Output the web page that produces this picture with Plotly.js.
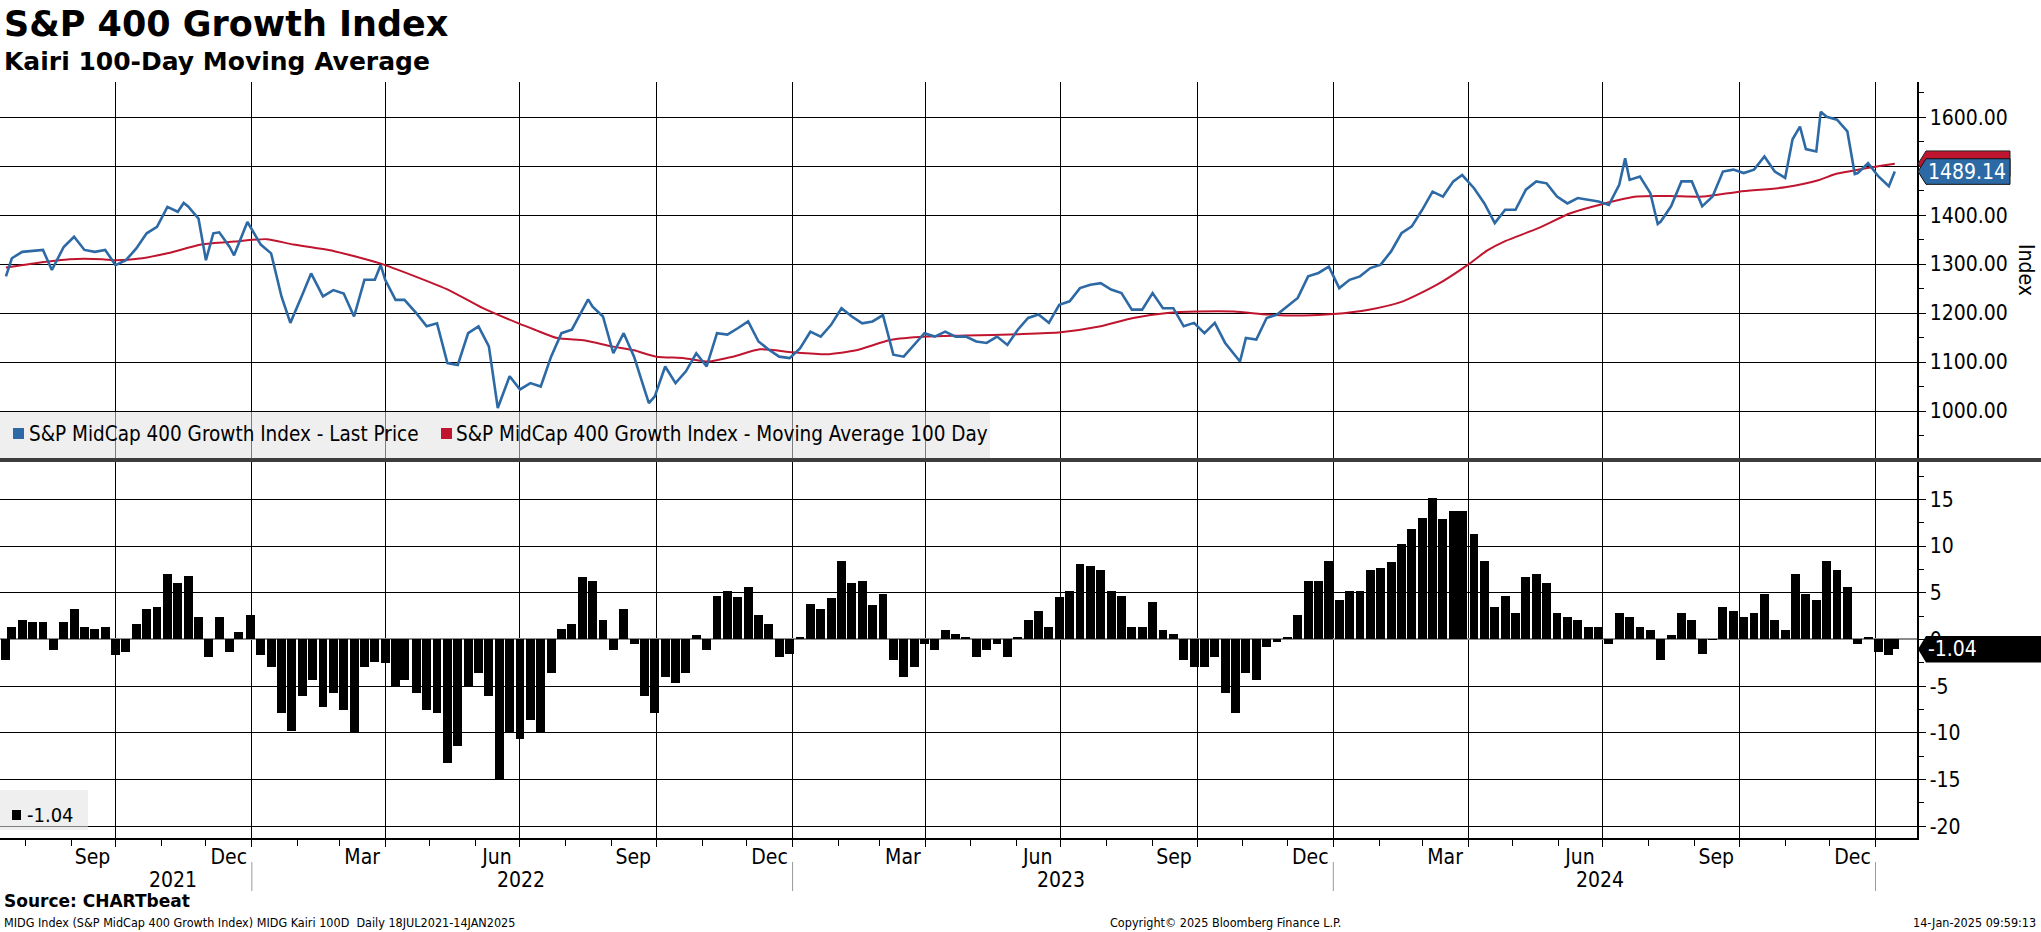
<!DOCTYPE html>
<html>
<head>
<meta charset="utf-8">
<script src="https://cdn.plot.ly/plotly-3.0.1.min.js"></script>
<style>
  html, body { margin: 0; padding: 0; background: #fff; }
  #chart { width: 2041px; height: 932px; }
</style>
</head>
<body>
<div id="chart"></div>
<script>
// MIDG last price (weekly closes plus a few turning points)
const priceDates = [
  '2021-07-19','2021-07-23','2021-07-30','2021-08-06','2021-08-13','2021-08-19','2021-08-27','2021-09-03','2021-09-10','2021-09-17','2021-09-24',
  '2021-10-01','2021-10-08','2021-10-15','2021-10-22','2021-10-29','2021-11-05','2021-11-12','2021-11-16','2021-11-19','2021-11-26',
  '2021-12-01','2021-12-06','2021-12-10','2021-12-17','2021-12-20','2021-12-29','2022-01-07','2022-01-14','2022-01-21','2022-01-27',
  '2022-02-04','2022-02-10','2022-02-18','2022-02-25','2022-03-04','2022-03-11','2022-03-18','2022-03-25','2022-03-29','2022-04-01',
  '2022-04-08','2022-04-14','2022-04-22','2022-04-29','2022-05-06','2022-05-13','2022-05-20','2022-05-27','2022-06-03','2022-06-10',
  '2022-06-16','2022-06-24','2022-07-01','2022-07-08','2022-07-15','2022-07-22','2022-07-29','2022-08-05','2022-08-16','2022-08-19',
  '2022-08-26','2022-09-02','2022-09-09','2022-09-16','2022-09-23','2022-09-26','2022-09-30','2022-10-07','2022-10-14','2022-10-21',
  '2022-10-28','2022-11-04','2022-11-11','2022-11-18','2022-11-25','2022-12-02','2022-12-09','2022-12-16','2022-12-23','2022-12-30',
  '2023-01-06','2023-01-13','2023-01-20','2023-01-27','2023-02-03','2023-02-10','2023-02-17','2023-02-24','2023-03-03','2023-03-10',
  '2023-03-17','2023-03-24','2023-03-31','2023-04-07','2023-04-14','2023-04-21','2023-04-28','2023-05-05','2023-05-12','2023-05-19',
  '2023-05-26','2023-06-02','2023-06-09','2023-06-16','2023-06-23','2023-06-30','2023-07-07','2023-07-14','2023-07-21','2023-07-28',
  '2023-08-04','2023-08-11','2023-08-18','2023-08-25','2023-09-01','2023-09-08','2023-09-15','2023-09-22','2023-09-29','2023-10-06',
  '2023-10-13','2023-10-20','2023-10-27','2023-10-30','2023-11-03','2023-11-10','2023-11-17','2023-11-24','2023-12-01','2023-12-08',
  '2023-12-15','2023-12-22','2023-12-29','2024-01-05','2024-01-12','2024-01-19','2024-01-26','2024-02-02','2024-02-09','2024-02-16',
  '2024-02-23','2024-03-01','2024-03-08','2024-03-15','2024-03-22','2024-03-28','2024-04-05','2024-04-12','2024-04-19','2024-04-26',
  '2024-05-03','2024-05-10','2024-05-17','2024-05-24','2024-05-31','2024-06-07','2024-06-14','2024-06-21','2024-06-28','2024-07-05',
  '2024-07-12','2024-07-16','2024-07-19','2024-07-26','2024-08-02','2024-08-07','2024-08-09','2024-08-16','2024-08-23','2024-08-30',
  '2024-09-06','2024-09-13','2024-09-20','2024-09-27','2024-10-04','2024-10-11','2024-10-18','2024-10-25','2024-11-01','2024-11-06',
  '2024-11-11','2024-11-15','2024-11-22','2024-11-25','2024-11-29','2024-12-06','2024-12-13','2024-12-18','2024-12-20','2024-12-27',
  '2025-01-03','2025-01-10','2025-01-14'
];
const priceValues = [
  1275,1312,1325,1327,1329,1288,1335,1356,1329,1325,1329,
  1298,1308,1332,1363,1376,1417,1407,1425,1418,1393,
  1308,1363,1365,1335,1318,1386,1340,1322,1234,1180,
  1237,1281,1234,1247,1240,1193,1268,1268,1298,1268,
  1227,1227,1200,1173,1179,1098,1094,1159,1173,1132,
  1006,1071,1044,1057,1050,1111,1159,1166,1228,1213,
  1193,1118,1159,1111,1044,1016,1030,1091,1057,1081,
  1118,1091,1159,1156,1169,1183,1142,1125,1111,1108,
  1128,1162,1152,1176,1210,1193,1179,1183,1196,1115,
  1111,1135,1159,1152,1162,1152,1152,1142,1139,1152,
  1135,1166,1190,1197,1180,1217,1224,1251,1258,1261,
  1248,1241,1207,1207,1241,1210,1210,1173,1180,1159,
  1180,1139,1112,1101,1149,1146,1190,1197,1214,1231,
  1275,1282,1295,1251,1268,1275,1292,1299,1326,1363,
  1377,1411,1448,1438,1469,1482,1455,1424,1384,1411,
  1411,1452,1469,1465,1438,1424,1435,1431,1428,1421,
  1462,1516,1472,1479,1445,1382,1387,1418,1469,1469,
  1418,1438,1489,1493,1486,1493,1520,1489,1476,1555,
  1581,1535,1530,1611,1601,1595,1571,1484,1486,1506,
  1479,1459,1489.14
];

// 100-day moving average
const maDates = [
  '2021-07-19','2021-08-08','2021-08-31','2021-09-22','2021-10-01','2021-10-19','2021-11-05','2021-11-28','2021-12-20','2022-01-11',
  '2022-01-29','2022-02-25','2022-03-28','2022-04-22','2022-05-14','2022-06-06','2022-06-30','2022-07-11','2022-07-26','2022-08-14',
  '2022-09-01','2022-09-16','2022-10-01','2022-10-20','2022-11-05','2022-11-22','2022-12-10','2023-01-01','2023-01-24','2023-02-13',
  '2023-03-08','2023-04-01','2023-04-28','2023-06-03','2023-07-01','2023-07-28','2023-08-19','2023-09-11','2023-10-01','2023-10-26',
  '2023-11-18','2023-12-12','2024-01-01','2024-01-25','2024-02-17','2024-03-11','2024-04-01','2024-04-14','2024-04-26','2024-05-18',
  '2024-06-09','2024-07-01','2024-07-24','2024-08-15','2024-09-07','2024-10-01','2024-11-01','2024-11-24','2024-12-05','2025-01-01',
  '2025-01-14'
];
const maValues = [
  1293,1302,1310,1310,1308,1312,1322,1340,1346,1351,
  1340,1327,1302,1274,1247,1210,1179,1166,1149,1144,
  1132,1124,1111,1108,1101,1111,1126,1120,1116,1124,
  1145,1152,1154,1157,1161,1173,1190,1200,1203,1203,
  1197,1195,1198,1207,1224,1258,1299,1328,1347,1373,
  1404,1423,1438,1439,1438,1448,1457,1472,1484,1499,
  1505
];

// Kairi 100D (% distance from the moving average), weekly readings
const kairiDates = [
  '2021-07-19','2021-07-23','2021-07-30','2021-08-06','2021-08-13','2021-08-20','2021-08-27','2021-09-03','2021-09-10','2021-09-17','2021-09-24',
  '2021-10-01','2021-10-08','2021-10-15','2021-10-22','2021-10-29','2021-11-05','2021-11-12','2021-11-19','2021-11-26','2021-12-03',
  '2021-12-10','2021-12-17','2021-12-23','2021-12-31','2022-01-07','2022-01-14','2022-01-21','2022-01-28','2022-02-04','2022-02-11',
  '2022-02-18','2022-02-25','2022-03-04','2022-03-11','2022-03-18','2022-03-25','2022-04-01','2022-04-08','2022-04-14','2022-04-22',
  '2022-04-29','2022-05-06','2022-05-13','2022-05-20','2022-05-27','2022-06-03','2022-06-10','2022-06-17','2022-06-24','2022-07-01',
  '2022-07-08','2022-07-15','2022-07-22','2022-07-29','2022-08-05','2022-08-12','2022-08-19','2022-08-26','2022-09-02','2022-09-09',
  '2022-09-16','2022-09-23','2022-09-30','2022-10-07','2022-10-14','2022-10-21','2022-10-28','2022-11-04','2022-11-11','2022-11-18',
  '2022-11-25','2022-12-02','2022-12-09','2022-12-16','2022-12-23','2022-12-30','2023-01-06','2023-01-13','2023-01-20','2023-01-27',
  '2023-02-03','2023-02-10','2023-02-17','2023-02-24','2023-03-03','2023-03-10','2023-03-17','2023-03-24','2023-03-31','2023-04-07',
  '2023-04-14','2023-04-21','2023-04-28','2023-05-05','2023-05-12','2023-05-19','2023-05-26','2023-06-02','2023-06-09','2023-06-16',
  '2023-06-23','2023-06-30','2023-07-07','2023-07-14','2023-07-21','2023-07-28','2023-08-04','2023-08-11','2023-08-18','2023-08-25',
  '2023-09-01','2023-09-08','2023-09-15','2023-09-22','2023-09-29','2023-10-06','2023-10-13','2023-10-20','2023-10-27','2023-11-03',
  '2023-11-10','2023-11-17','2023-11-24','2023-12-01','2023-12-08','2023-12-15','2023-12-22','2023-12-29','2024-01-05','2024-01-12',
  '2024-01-19','2024-01-26','2024-02-02','2024-02-09','2024-02-16','2024-02-23','2024-03-01','2024-03-08','2024-03-15','2024-03-22',
  '2024-03-28','2024-04-05','2024-04-12','2024-04-19','2024-04-26','2024-05-03','2024-05-10','2024-05-17','2024-05-24','2024-05-31',
  '2024-06-07','2024-06-14','2024-06-21','2024-06-28','2024-07-05','2024-07-12','2024-07-19','2024-07-26','2024-08-02','2024-08-09',
  '2024-08-16','2024-08-23','2024-08-30','2024-09-06','2024-09-13','2024-09-20','2024-09-27','2024-10-04','2024-10-11','2024-10-18',
  '2024-10-25','2024-11-01','2024-11-08','2024-11-15','2024-11-22','2024-11-29','2024-12-06','2024-12-13','2024-12-20','2024-12-27',
  '2025-01-03','2025-01-10','2025-01-14'
];
const kairiValues = [
  -2.2,1.35,2.06,1.88,1.88,-1.13,1.88,3.3,1.35,1.17,1.35,
  -1.67,-1.31,1.7,3.3,3.5,7.0,6.1,6.8,2.4,-1.84,
  2.4,-1.31,0.8,2.6,-1.67,-2.9,-7.9,-9.8,-6.1,-4.3,
  -7.2,-5.7,-7.5,-10.0,-2.9,-2.4,-2.55,-5.0,-4.3,-5.7,
  -7.5,-7.9,-13.2,-11.4,-5.0,-3.6,-6.1,-15.0,-10.0,-10.7,
  -8.6,-10.0,-3.6,1.17,1.7,6.7,6.3,2.06,-1.13,3.3,
  -0.43,-6.1,-7.9,-4.0,-4.7,-3.6,0.46,-1.13,4.7,5.2,
  4.5,5.6,2.6,1.7,-1.84,-1.5,0.3,3.8,3.3,4.4,
  8.4,6.0,6.3,3.65,4.9,-2.2,-4.0,-2.9,-0.43,-1.13,
  1.0,0.64,0.3,-1.84,-1.13,-0.43,-1.84,0.3,2.06,3.1,
  1.35,4.5,5.2,8.1,7.9,7.4,5.2,4.7,1.35,1.35,
  4.0,1.0,0.64,-2.2,-2.9,-2.9,-1.84,-5.7,-7.9,-3.6,
  -4.3,-0.78,-0.25,0.3,2.6,6.3,6.3,8.4,4.2,5.2,
  5.2,7.4,7.7,8.3,10.2,11.8,13.0,15.2,12.9,13.8,
  13.8,11.3,8.4,3.5,4.7,2.8,6.7,7.0,6.0,2.8,
  2.4,2.06,1.35,1.35,-0.43,2.8,2.4,1.35,1.0,-2.2,
  0.46,2.8,2.06,-1.5,-0.07,3.5,3.1,2.4,2.8,4.9,
  2.06,1.0,7.0,4.9,4.2,8.4,7.4,5.6,-0.43,0.3,
  -1.3,-1.67,-1.04
];

// axis ticks and labels
const quarterTicks = ['2021-10-01','2022-01-01','2022-04-01','2022-07-01','2022-10-01','2023-01-01','2023-04-01',
  '2023-07-01','2023-10-01','2024-01-01','2024-04-01','2024-07-01','2024-10-01','2025-01-01'];
const quarterLabels = ['Sep','Dec','Mar','Jun','Sep','Dec','Mar','Jun','Sep','Dec','Mar','Jun','Sep','Dec'];
const yearLabels = ['2021','2022','2023','2024'];
const yearCenters = ['2021-11-09','2022-07-02','2023-07-01','2024-06-29'];
const yearBreaks = ['2022-01-01','2023-01-01','2024-01-01','2025-01-01'];
const kairiTicks = [15, 10, 5, 0, -5, -10, -15, -20];

const BLUE = '#2d6aa5';
const RED = '#c0152f';
const FONT = "'DejaVu Sans Condensed', 'Liberation Sans', sans-serif";
const BOLD = "'DejaVu Sans', 'Liberation Sans', sans-serif";

// page pixel -> paper helpers (plot area: x 0..1917, y 82..838)
const PW = 1917, PTOP = 82, PBOT = 838;
function px(x) { return x / PW; }
function py(y) { return (PBOT - y) / (PBOT - PTOP); }

const upperRange = [904, 1672];
const lowerRange = [-21.25, 19];
const upperPxPerUnit = 376 / (upperRange[1] - upperRange[0]);
const lowerPxPerUnit = 376 / (lowerRange[1] - lowerRange[0]);

const lastPrice = priceValues[priceValues.length - 1];
const lastMa = maValues[maValues.length - 1];
const lastKairi = kairiValues[kairiValues.length - 1];

function tagPath(v, pxPerUnit, x1) {
  const h = 12.8 / pxPerUnit;
  const a = px(1918), b = px(1926), c = px(x1);
  return 'M' + a + ',' + v + ' L' + b + ',' + (v + h) + ' L' + c + ',' + (v + h) +
         ' L' + c + ',' + (v - h) + ' L' + b + ',' + (v - h) + ' Z';
}

const traces = [
  {
    type: 'bar', x: kairiDates, y: kairiValues, xaxis: 'x', yaxis: 'y2',
    marker: { color: '#000', line: { width: 0 } },
    width: 6 * 86400000, hoverinfo: 'skip'
  },
  {
    type: 'scatter', mode: 'lines', x: maDates, y: maValues, xaxis: 'x', yaxis: 'y',
    line: { color: RED, width: 2, shape: 'spline', smoothing: 0.6 }, hoverinfo: 'skip'
  },
  {
    type: 'scatter', mode: 'lines', x: priceDates, y: priceValues, xaxis: 'x', yaxis: 'y',
    line: { color: BLUE, width: 2.6 }, hoverinfo: 'skip'
  }
];

const shapes = [
  // legend boxes
  { type: 'rect', xref: 'paper', yref: 'paper', x0: 0, x1: px(990), y0: py(458), y1: py(412),
    fillcolor: 'rgba(226,226,226,0.55)', line: { width: 0 } },
  { type: 'rect', xref: 'paper', yref: 'paper', x0: px(13), x1: px(24), y0: py(439), y1: py(428),
    fillcolor: BLUE, line: { width: 0 } },
  { type: 'rect', xref: 'paper', yref: 'paper', x0: px(441), x1: px(452), y0: py(439), y1: py(428),
    fillcolor: RED, line: { width: 0 } },
  { type: 'rect', xref: 'paper', yref: 'paper', x0: 0, x1: px(88), y0: py(830), y1: py(790),
    fillcolor: 'rgba(226,226,226,0.55)', line: { width: 0 } },
  { type: 'rect', xref: 'paper', yref: 'paper', x0: px(12), x1: px(21), y0: py(820), y1: py(810),
    fillcolor: '#000', line: { width: 0 } },
  // panel separator
  { type: 'line', xref: 'paper', yref: 'paper', x0: 0, x1: px(2041), y0: py(460), y1: py(460),
    line: { color: '#3d3d3d', width: 4 } },
  // last value tags
  { type: 'path', xref: 'paper', yref: 'y', path: tagPath(lastMa, upperPxPerUnit, 2010),
    fillcolor: RED, line: { color: '#222', width: 1 } },
  { type: 'path', xref: 'paper', yref: 'y', path: tagPath(lastPrice, upperPxPerUnit, 2010),
    fillcolor: BLUE, line: { color: '#111', width: 1 } },
  { type: 'path', xref: 'paper', yref: 'y2', path: tagPath(lastKairi, lowerPxPerUnit * 12.8 / 13.3, 2060),
    fillcolor: '#000', line: { width: 0 } }
];
yearBreaks.forEach(function (d) {
  shapes.push({ type: 'line', xref: 'x', yref: 'paper', x0: d, x1: d, y0: py(862), y1: py(891),
    line: { color: '#9a9a9a', width: 1 } });
});

const annotations = [
  { text: 'S&P 400 Growth Index', x: px(3), y: py(24), font: { family: BOLD, size: 35, weight: 'bold' } },
  { text: 'Kairi 100-Day Moving Average', x: px(3), y: py(61), font: { family: BOLD, size: 25, weight: 'bold' } },
  { text: 'S&P MidCap 400 Growth Index - Last Price', x: px(28), y: py(434), font: { family: FONT, size: 20.5 } },
  { text: 'S&P MidCap 400 Growth Index - Moving Average 100 Day', x: px(455), y: py(434), font: { family: FONT, size: 20.5 } },
  { text: lastKairi.toFixed(2), x: px(26), y: py(815), font: { family: FONT, size: 20 } },
  { text: 'Index', x: px(2026), y: py(270), xanchor: 'center', textangle: 90, font: { family: FONT, size: 21 } },
  { text: lastPrice.toFixed(2), x: px(1927), y: lastPrice, yref: 'y', font: { family: FONT, size: 21, color: '#fff' } },
  { text: lastKairi.toFixed(2), x: px(1927), y: lastKairi, yref: 'y2', font: { family: FONT, size: 21, color: '#fff' } },
  { text: 'Source: CHARTbeat', x: px(3), y: py(901), font: { family: BOLD, size: 17, weight: 'bold' } },
  { text: 'MIDG Index (S&P MidCap 400 Growth Index) MIDG Kairi 100D  Daily 18JUL2021-14JAN2025',
    x: px(3), y: py(923), font: { family: FONT, size: 12.5 } },
  { text: 'Copyright\u00a9 2025 Bloomberg Finance L.P.', x: px(1225), y: py(923), xanchor: 'center', font: { family: FONT, size: 12.5 } },
  { text: '14-Jan-2025 09:59:13', x: px(2037), y: py(923), xanchor: 'right', font: { family: FONT, size: 12.5 } }
];
yearLabels.forEach(function (t, i) {
  annotations.push({ text: t, x: yearCenters[i], xref: 'x', y: py(880), xanchor: 'center', font: { family: FONT, size: 21 } });
});
annotations.forEach(function (a) {
  if (!a.xref) a.xref = 'paper';
  if (!a.yref) a.yref = 'paper';
  if (!a.xanchor) a.xanchor = 'left';
  a.yanchor = 'middle';
  a.showarrow = false;
  a.borderpad = 0;
  if (!a.font.color) a.font.color = '#000';
});

const layout = {
  width: 2041, height: 932,
  margin: { l: 0, r: 2041 - PW, t: PTOP, b: 932 - PBOT, pad: 0 },
  paper_bgcolor: '#fff', plot_bgcolor: '#fff',
  font: { family: FONT, size: 21, color: '#000' },
  showlegend: false, hovermode: false, bargap: 0,
  xaxis: {
    type: 'date', anchor: 'y2', domain: [0, 1],
    range: ['2021-07-15', '2025-01-29'],
    tickmode: 'array', tickvals: quarterTicks, ticktext: quarterLabels,
    ticklabelshift: -23, ticklabelstandoff: -8,
    showgrid: true, gridcolor: '#000', gridwidth: 1,
    ticks: 'outside', ticklen: 7, tickcolor: '#000', tickwidth: 1,
    minor: { tickmode: 'linear', tick0: '2021-01-01', dtick: 'M1', ticks: 'outside', ticklen: 6, tickcolor: '#000', showgrid: false },
    showline: true, linecolor: '#000', linewidth: 1.5,
    zeroline: false, fixedrange: true,
    tickfont: { family: FONT, size: 21, color: '#000' }
  },
  yaxis: {
    domain: [py(458), 1], anchor: 'x', side: 'right', range: upperRange,
    tick0: 0, dtick: 100, tickformat: '.2f',
    showgrid: true, gridcolor: '#000', gridwidth: 1,
    ticks: 'outside', ticklen: 7, tickcolor: '#000',
    minor: { tick0: 0, dtick: 50, ticks: 'outside', ticklen: 5, tickcolor: '#000', showgrid: false },
    showline: true, linecolor: '#000', linewidth: 1.5, zeroline: false, fixedrange: true,
    tickfont: { family: FONT, size: 21, color: '#000' }
  },
  yaxis2: {
    domain: [0, py(462)], anchor: 'x', side: 'right', range: lowerRange,
    tickmode: 'array', tickvals: kairiTicks, ticktext: kairiTicks.map(String),
    showgrid: true, gridcolor: '#000', gridwidth: 1,
    ticks: 'outside', ticklen: 7, tickcolor: '#000',
    minor: { tickmode: 'linear', tick0: 0, dtick: 2.5, ticks: 'outside', ticklen: 5, tickcolor: '#000', showgrid: false },
    zeroline: true, zerolinecolor: '#8c8c8c', zerolinewidth: 2,
    showline: true, linecolor: '#000', linewidth: 1.5, fixedrange: true,
    tickfont: { family: FONT, size: 21, color: '#000' }
  },
  shapes: shapes,
  annotations: annotations
};

Plotly.newPlot('chart', traces, layout, { displayModeBar: false, staticPlot: true });
</script>
</body>
</html>
